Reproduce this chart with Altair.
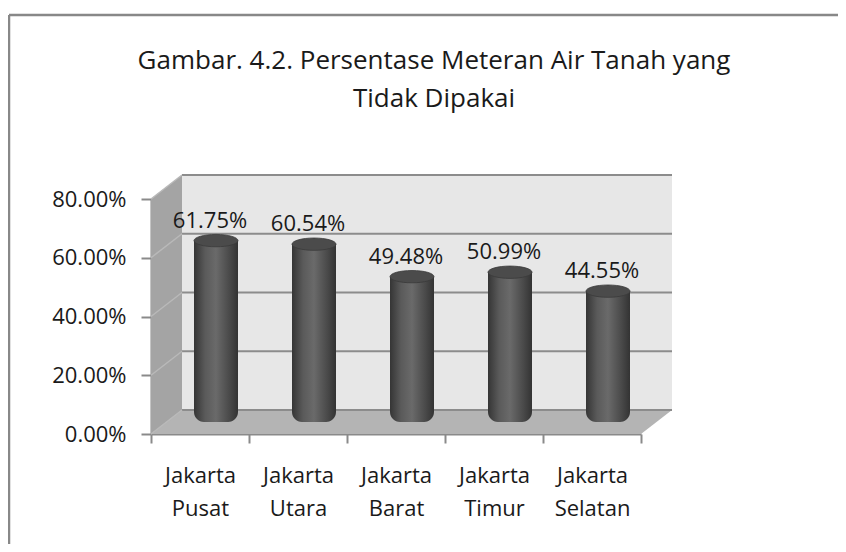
import altair as alt
import pandas as pd

categories = ["Jakarta Pusat", "Jakarta Utara", "Jakarta Barat", "Jakarta Timur", "Jakarta Selatan"]
values = [0.6175, 0.6054, 0.4948, 0.5099, 0.4455]
value_labels = ["61.75%", "60.54%", "49.48%", "50.99%", "44.55%"]
y_ticks = [0, 0.2, 0.4, 0.6, 0.8]
title_lines = ["Gambar. 4.2. Persentase Meteran Air Tanah yang", "Tidak Dipakai"]

df = pd.DataFrame({"region": categories, "value": values, "label": value_labels})
ticks_df = pd.DataFrame({"tick": y_ticks})

FONT = "Open Sans"
AXIS_GRAY = "#8a8a8a"
W, H = 490, 235          # front plane of the 3-D box
DX, DY = 31, 24          # depth offset of the back wall
BAR_W = 44

# decorative 3-D box (pixel geometry of the walls, not data)
def poly(part, pts):
    return {"type": "Feature", "properties": {"part": part},
            "geometry": {"type": "Polygon", "coordinates": [pts + [pts[0]]]}}

walls = [
    poly("back", [[DX, -DY], [W + DX, -DY], [W + DX, H - DY], [DX, H - DY]]),
    poly("side", [[0, 0], [DX, -DY], [DX, H - DY], [0, H]]),
    poly("floor", [[0, H], [DX, H - DY], [W + DX, H - DY], [W, H]]),
]
wall_layer = alt.Chart(alt.InlineData(values=walls, format=alt.DataFormat(type="json"))).mark_geoshape(
    strokeWidth=0, clip=False
).encode(
    fill=alt.Color("properties.part:N",
                   scale=alt.Scale(domain=["back", "side", "floor"],
                                   range=["#e7e7e7", "#a4a4a4", "#b4b4b4"]),
                   legend=None)
).project(type="identity", scale=1, translate=[0, 0])

y_scale = alt.Scale(domain=[0, 0.8], nice=False)
# bars stand in the middle of the box depth: same scale, shifted range
bar_y_scale = alt.Scale(domain=[0, 0.8], nice=False, range=[H - 12, -12])

x_enc = alt.X(
    "region:N", sort=categories, title=None,
    scale=alt.Scale(paddingInner=0, paddingOuter=0),
    axis=alt.Axis(labelAngle=0, labelExpr="split(datum.label, ' ')", labelFont=FONT,
                  labelFontSize=22, labelColor="#1a1a1a", labelLineHeight=33, tickBand="extent",
                  tickSize=9, tickColor=AXIS_GRAY, tickWidth=2, domainColor=AXIS_GRAY,
                  domainWidth=2, labelPadding=22, grid=False),
)
y_axis = alt.Axis(values=y_ticks, format=".2%", labelFont=FONT, labelFontSize=22,
                  labelColor="#1a1a1a", tickSize=10, tickColor=AXIS_GRAY, tickWidth=2,
                  domainColor=AXIS_GRAY, domainWidth=2, labelPadding=15, grid=False)

back_grid = alt.Chart(ticks_df).mark_rule(color="#8c8c8c", strokeWidth=2, yOffset=-DY).encode(
    y=alt.Y("tick:Q", scale=y_scale, axis=None), x=alt.value(DX), x2=alt.value(W + DX))
side_grid = alt.Chart(ticks_df).mark_rule(color="#b9b9b9", strokeWidth=1.5, y2Offset=-DY).encode(
    y=alt.Y("tick:Q", scale=y_scale, axis=None), y2="tick:Q", x=alt.value(0), x2=alt.value(DX))

bar_fill = alt.Gradient(
    gradient="linear",
    stops=[alt.GradientStop(color="#353535", offset=0),
           alt.GradientStop(color="#5a5a5a", offset=0.25),
           alt.GradientStop(color="#6a6a6a", offset=0.5),
           alt.GradientStop(color="#4a4a4a", offset=0.8),
           alt.GradientStop(color="#333333", offset=1)],
    x1=0, x2=1, y1=0, y2=0,
)

ELLIPSE = "M -1 0 A 1 0.28 0 1 0 1 0 A 1 0.28 0 1 0 -1 0 Z"

base = alt.Chart(df)
bars = base.mark_bar(color=bar_fill, width=BAR_W, xOffset=16, cornerRadiusTopLeft=0,
                     cornerRadiusTopRight=0, cornerRadiusBottomLeft=10,
                     cornerRadiusBottomRight=10).encode(
    x=x_enc, y=alt.Y("value:Q", title=None, scale=bar_y_scale, axis=None))
tops = base.mark_point(shape=ELLIPSE, filled=True, size=BAR_W * BAR_W, xOffset=16,
                       color="#4b4b4b", opacity=1, stroke="#3a3a3a", strokeWidth=0.8).encode(
    x=alt.X("region:N", sort=categories),
    y=alt.Y("value:Q", scale=bar_y_scale, axis=None))
texts = base.mark_text(font=FONT, fontSize=22, color="#1a1a1a", baseline="middle",
                       dx=10, dy=-32).encode(
    x=alt.X("region:N", sort=categories),
    y=alt.Y("value:Q", title=None, scale=y_scale, axis=y_axis), text="label:N")

title_text = alt.Chart(ticks_df.head(1)).mark_text(
    font=FONT, fontSize=26, color="#1a1a1a", baseline="middle", align="center", lineHeight=38
).encode(x=alt.value(283), y=alt.value(-138), text=alt.value(title_lines))

frame_left = alt.Chart(ticks_df.head(1)).mark_rule(color="#888", strokeWidth=2.5).encode(
    x=alt.value(-142), y=alt.value(-184), y2=alt.value(400))
frame_top = alt.Chart(ticks_df.head(1)).mark_rule(color="#888", strokeWidth=2.5).encode(
    x=alt.value(-142), x2=alt.value(720), y=alt.value(-184))

chart = alt.layer(wall_layer, back_grid, side_grid, bars, tops, texts, title_text,
                  frame_left, frame_top).resolve_scale(y="independent").properties(
    width=W, height=H,
    padding={"left": 143, "top": 191, "right": 197, "bottom": 110},
    autosize=alt.AutoSizeParams(type="none"),
).configure_view(stroke=None)

chart.save("out.html", embed_options={"renderer": "svg", "actions": False})
